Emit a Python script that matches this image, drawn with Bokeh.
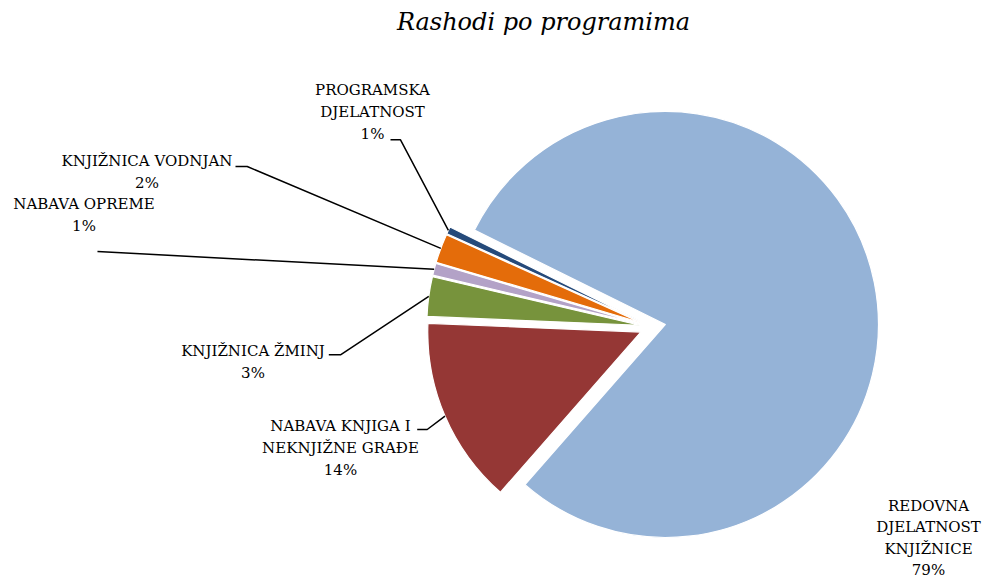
import math
from bokeh.plotting import figure
from bokeh.models import Range1d, ColumnDataSource
from bokeh.core.properties import value
from bokeh.embed import file_html
from bokeh.resources import INLINE

# ---- data ----
categories = ["REDOVNA\nDJELATNOST\nKNJIŽNICE", "NABAVA KNJIGA I\nNEKNJIŽNE GRAĐE",
              "KNJIŽNICA ŽMINJ", "NABAVA OPREME", "KNJIŽNICA VODNJAN",
              "PROGRAMSKA\nDJELATNOST"]
shares = [79.15, 14.2, 3.0, 0.9, 2.2, 0.55]
colors = ["#95B3D7", "#953735", "#77933C", "#B3A2C7", "#E46C0A", "#254A7A"]
title_text = "Rashodi po programima"

# ---- layout (pixels of the page) ----
W, H = 986, 580
FONT = "DejaVu Serif"

def sx(x):
    return x

def sy(y):
    return H - y

CX, CY = sx(652.2), sy(326.5)
R = 213
EXPLODE = 13
START_DEG = 153.7

total = sum(shares)
starts, ends, xs, ys, mids = [], [], [], [], []
cum = 0.0
for v in shares:
    a_start = math.radians(START_DEG) - 2 * math.pi * cum / total
    cum += v
    a_end = math.radians(START_DEG) - 2 * math.pi * cum / total
    mid = 0.5 * (a_start + a_end)
    starts.append(a_end)
    ends.append(a_start)
    mids.append(mid)
    xs.append(CX + EXPLODE * math.cos(mid))
    ys.append(CY + EXPLODE * math.sin(mid))

p = figure(width=W, height=H, output_backend="svg", toolbar_location=None,
           x_range=Range1d(0, W), y_range=Range1d(0, H), min_border=0)
p.axis.visible = False
p.grid.visible = False
p.outline_line_color = None
p.background_fill_color = "white"

src = ColumnDataSource(dict(x=xs, y=ys, s=starts, e=ends, c=colors))
p.wedge(x="x", y="y", radius=R, start_angle="s", end_angle="e",
        fill_color="c", line_color="white", line_width=1.2, source=src)

# leader lines: elbow points (page px) per slice index
elbows = {
    1: [(416.7, 429), (426.7, 429)],
    2: [(328.3, 354.3), (340, 354.3)],
    3: [(97, 251)],
    4: [(235, 166), (246.7, 166)],
    5: [(390, 139.3), (400, 139.3)],
}
lx, ly = [], []
for i, pts in elbows.items():
    ex = xs[i] + R * math.cos(mids[i])
    ey = ys[i] + R * math.sin(mids[i])
    lx.append([sx(a) for a, b in pts] + [ex])
    ly.append([sy(b) for a, b in pts] + [ey])
p.multi_line(xs=lx, ys=ly, line_color="black", line_width=1.5)

# data labels: (center x, center y, line spacing)
label_pos = [(928, 537.5, 21.5), (340, 447.5, 22), (252.5, 361.5, 22),
             (83.5, 214, 22), (146.5, 171.5, 22), (372, 111.5, 22)]
tx, ty, tt = [], [], []
for i, name in enumerate(categories):
    pct = f"{int(math.floor(100 * shares[i] / total + 0.5))}%"
    lines = name.split("\n") + [pct]
    cx, cy, lh = label_pos[i]
    n = len(lines)
    for k, t in enumerate(lines):
        tx.append(sx(cx))
        ty.append(sy(cy + (k - (n - 1) / 2) * lh))
        tt.append(t)
p.text(x=tx, y=ty, text=tt, text_align="center", text_baseline="middle",
       text_font=value(FONT), text_font_size="15px", text_color="black")

# title
p.text(x=[sx(543)], y=[sy(21)], text=[title_text], text_align="center",
       text_baseline="middle", text_font=value(FONT), text_font_style="italic",
       text_font_size="24px", text_color="black")

open("out.html", "w").write(file_html(p, INLINE))
